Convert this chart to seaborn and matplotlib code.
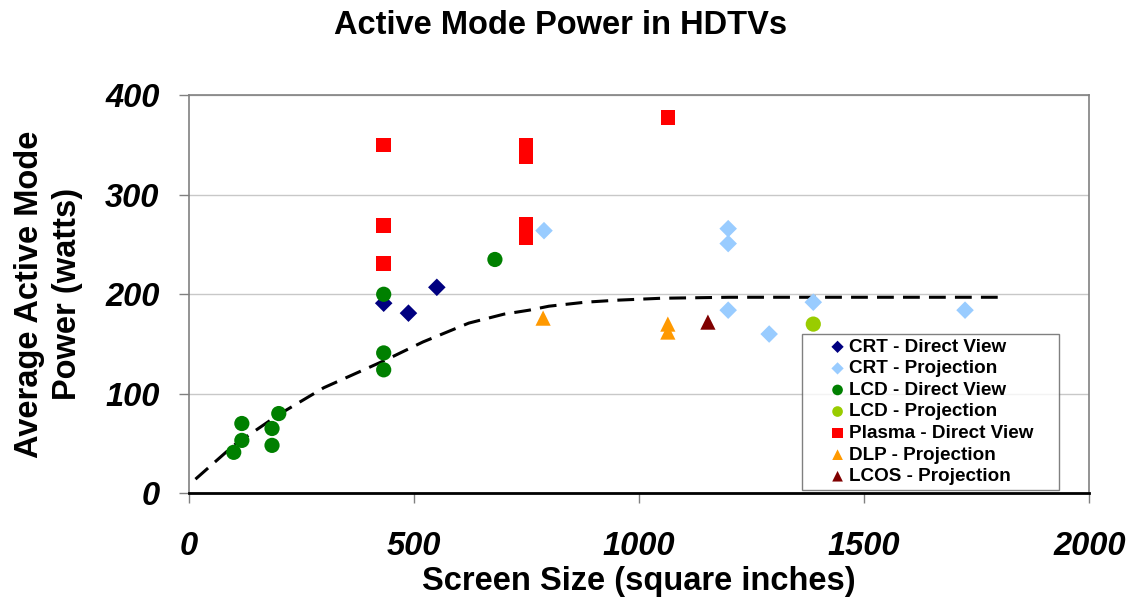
import numpy as np
import pandas as pd
import matplotlib
matplotlib.use("Agg")
import matplotlib.pyplot as plt
import seaborn as sns
from matplotlib.collections import PathCollection
from matplotlib.legend_handler import HandlerPathCollection

# values
crt_dv_x = [433, 488, 551]
crt_dv_y = [191, 181, 207]
crt_pj_x = [789, 1198, 1198, 1198, 1289, 1387, 1724]
crt_pj_y = [264, 266, 251, 184, 160, 192, 184]
lcd_dv_x = [100, 118, 118, 185, 185, 200, 433, 433, 433, 680]
lcd_dv_y = [41, 53, 70, 65, 48, 80, 200, 141, 124, 235]
lcd_pj_x = [1387]
lcd_pj_y = [170]
plasma_x = [433, 433, 433, 749, 749, 749, 749, 1064]
plasma_y = [350, 269, 231, 350, 338, 270, 257, 378]
dlp_x = [787, 1064, 1064]
dlp_y = [176, 170, 162]
lcos_x = [1153]
lcos_y = [172]

# trend line
trend_x = [15, 100, 200, 300, 438, 520, 622, 700, 756, 800, 880, 949, 1050, 1200, 1500, 1804]
trend_y = [14, 48, 79, 106, 134, 152, 171, 180, 184, 188, 192, 194, 196, 197, 197, 197]

labels = ["CRT - Direct View", "CRT - Projection", "LCD - Direct View", "LCD - Projection",
          "Plasma - Direct View", "DLP - Projection", "LCOS - Projection"]
colors = ["#000080", "#99ccff", "#008000", "#99cc00", "#ff0000", "#ff9900", "#800000"]
marker_list = ["D", "D", "o", "o", "s", "^", "^"]
sizes = [80, 80, 120, 120, 110, 120, 120]

xs = [crt_dv_x, crt_pj_x, lcd_dv_x, lcd_pj_x, plasma_x, dlp_x, lcos_x]
ys = [crt_dv_y, crt_pj_y, lcd_dv_y, lcd_pj_y, plasma_y, dlp_y, lcos_y]

sns.set_style("white")
plt.rcParams["font.family"] = ["Liberation Sans", "DejaVu Sans"]
plt.rcParams["text.color"] = "black"
plt.rcParams["axes.labelcolor"] = "black"
plt.rcParams["xtick.labelcolor"] = "black"
plt.rcParams["ytick.labelcolor"] = "black"

fig = plt.figure(figsize=(11.3, 6.08), dpi=100)
ax = fig.add_axes([0.167, 0.189, 0.797, 0.654])

for lab, c, m, s, x, y in zip(labels, colors, marker_list, sizes, xs, ys):
    df = pd.DataFrame({"x": x, "y": y})
    # trailing spaces give the legend box its right-hand margin
    sns.scatterplot(data=df, x="x", y="y", ax=ax, color=c, marker=m, s=s,
                    edgecolor="none", label=lab + "    ", zorder=3)

trend = pd.DataFrame({"x": trend_x, "y": trend_y})
sns.lineplot(data=trend, x="x", y="y", ax=ax, color="black", lw=2.2,
             linestyle=(0, (5.5, 3)), zorder=2, label="_nolegend_")

ax.set_xlim(0, 2000)
ax.set_ylim(0, 400)
ax.set_xticks([0, 500, 1000, 1500, 2000])
ax.set_yticks([0, 100, 200, 300, 400])
ax.yaxis.grid(True, color="#c8c8c8", lw=1)
ax.xaxis.grid(False)

for side in ["top", "right", "left"]:
    ax.spines[side].set_visible(True)
    ax.spines[side].set_color("#808080")
    ax.spines[side].set_linewidth(1.2)
ax.spines["bottom"].set_color("black")
ax.spines["bottom"].set_linewidth(2)

ax.tick_params(axis="y", direction="out", length=7, width=1, color="#808080", pad=14, left=True)
ax.tick_params(axis="x", direction="out", length=7, width=1, color="#808080", pad=20, bottom=True)
for t in ax.get_xticklabels() + ax.get_yticklabels():
    t.set_fontsize(23.5)
    t.set_fontweight("bold")
    t.set_fontstyle("italic")

ax.set_xlabel("Screen Size (square inches)", fontsize=23.5, fontweight="bold", labelpad=3)
ax.set_ylabel("Average Active Mode\nPower (watts)", fontsize=23.5, fontweight="bold",
              labelpad=16, linespacing=1.3)
fig.text(0.496, 0.958, "Active Mode Power in HDTVs", fontsize=23.5, fontweight="bold",
         ha="center", va="center")

leg = ax.legend(loc="lower right", bbox_to_anchor=(0.966, 0.008),
                prop={"weight": "bold", "size": 13.6}, frameon=True, fancybox=False,
                borderaxespad=0, handletextpad=0.1, labelspacing=0.23,
                markerscale=0.7, handlelength=2.1, borderpad=0.25,
                handler_map={PathCollection: HandlerPathCollection(xpad=1.13)})
leg.get_frame().set_edgecolor("#606060")
leg.get_frame().set_linewidth(1)
for t in leg.get_texts():
    t.set_color("black")

fig.savefig("out.png", dpi=100)
